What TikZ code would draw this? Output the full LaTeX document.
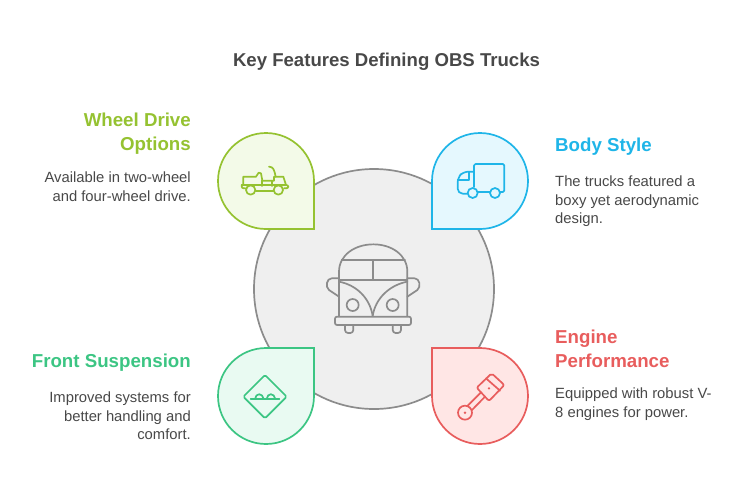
\documentclass[tikz,border=0pt]{standalone}
\usepackage{fontspec}
\setmainfont{Liberation Sans}
\usetikzlibrary{positioning}

\definecolor{hubgray}{HTML}{8C8C8C}
\definecolor{hubfill}{HTML}{EFEFEF}
\definecolor{inkgray}{HTML}{484848}
\definecolor{wheelgreen}{HTML}{95C231}
\definecolor{wheelfill}{HTML}{F3FAE8}
\definecolor{bodyblue}{HTML}{1FB5E8}
\definecolor{bodyfill}{HTML}{E5F8FE}
\definecolor{frontgreen}{HTML}{3CC583}
\definecolor{frontfill}{HTML}{E9FAF2}
\definecolor{enginered}{HTML}{E85D5D}
\definecolor{enginefill}{HTML}{FFE6E5}

\tikzset{
  petal/.style={line width=1.7pt, line join=miter},
  glyph/.style={line width=1.7pt, line join=round, line cap=round},
  headtext/.style={inner sep=0pt, font=\fontsize{18.7}{24.2}\selectfont\bfseries},
  notetext/.style={inner sep=0pt, text=inkgray, font=\fontsize{14.8}{18.3}\selectfont},
}

\begin{document}
\begin{tikzpicture}[x=1pt, y=-1pt]
      \useasboundingbox (0,0) rectangle (746,499);
      \node[inner sep=0pt, text=inkgray, font=\fontsize{18.6}{22}\selectfont\bfseries] (title) at (386.5,62) {Key Features Defining OBS Trucks};

      % hub
      \node[circle, draw=hubgray, fill=hubfill, line width=1.7pt, minimum size=240pt, inner sep=0pt] (hub) at (374,289) {};

      % petals
      \draw[petal, draw=wheelgreen, fill=wheelfill] (314,229) -- (314,181) arc[start angle=0, end angle=-270, radius=48] -- cycle;
      \draw[petal, draw=bodyblue, fill=bodyfill] (432,229) -- (432,181) arc[start angle=180, end angle=450, radius=48] -- cycle;
      \draw[petal, draw=frontgreen, fill=frontfill] (314,348) -- (314,396) arc[start angle=0, end angle=270, radius=48] -- cycle;
      \draw[petal, draw=enginered, fill=enginefill] (432,348) -- (432,396) arc[start angle=180, end angle=-90, radius=48] -- cycle;

      % bus
      \begin{scope}[shift={(320,235)}, scale=1/3, glyph, draw=hubgray]
        \draw (57,243) -- (57,110) .. controls (57,60) and (105,28) .. (160,28) .. controls (215,28) and (262,60) .. (262,110) -- (262,243);
        \draw (65,76) -- (255,76) (57,135) -- (262,135) (158,76) -- (158,135);
        \draw (57,130) -- (35,130) .. controls (20,130) and (15,155) .. (27,165) -- (57,185);
        \draw (262,130) -- (284,130) .. controls (299,130) and (304,155) .. (292,165) -- (262,185);
        \draw (57,140) .. controls (110,150) and (150,190) .. (158,243);
        \draw (262,140) .. controls (209,150) and (166,190) .. (158,243);
        \draw (98,210) circle[radius=18];
        \draw (218,210) circle[radius=18];
        \draw[rounded corners=2pt] (45,245) rectangle (273,270);
        \draw[rounded corners=3pt] (75,270) -- (75,294) -- (100,294) -- (100,270);
        \draw[rounded corners=3pt] (218,270) -- (218,294) -- (243,294) -- (243,270);
      \end{scope}

      % jeep
      \begin{scope}[shift={(210,125)}, scale=1/3, glyph, draw=wheelgreen]
        \draw (100,180) -- (100,155) -- (138,155) -- (146,143) -- (153,145) -- (157,167) -- (192,167) -- (192,155) -- (220,155) -- (228,180);
        \draw (157,167) -- (157,183) (187,167) -- (187,183);
        \draw (177,125) .. controls (190,125) and (193,135) .. (197,155);
        \draw[rounded corners=2pt] (95,180) -- (235,180) -- (235,190) -- (222,190);
        \draw[rounded corners=2pt] (95,180) -- (95,190) -- (106,190);
        \draw (137,197) -- (190,197);
        \draw (122,195) circle[radius=14];
        \draw (205,195) circle[radius=14];
      \end{scope}

      % truck
      \begin{scope}[shift={(425,125)}, scale=1/3, glyph, draw=bodyblue]
        \draw[rounded corners=1.5pt] (147,140) -- (147,117) -- (238,117) -- (238,201) -- (226,201);
        \draw (160,201) -- (194,201);
        \draw (147,140) -- (147,186);
        \draw[rounded corners=5pt] (147,140) -- (115,140) -- (98,158) -- (98,206) -- (127,206);
        \draw (98,165) -- (133,165) -- (133,140);
        \draw (143,204) circle[radius=15];
        \draw (210,204) circle[radius=15];
      \end{scope}

      % bump sign
      \begin{scope}[shift={(210,340)}, scale=1/3, glyph, draw=frontgreen]
        \draw[rounded corners=1.5pt] (165,105) -- (230,170) -- (165,235) -- (100,170) -- cycle;
        \draw (122,177) -- (208,177);
        \draw (135,177) .. controls (137,158) and (158,158) .. (161,177);
        \draw (170,177) .. controls (172,158) and (193,158) .. (196,177);
      \end{scope}

      % piston
      \begin{scope}[shift={(425,340)}, scale=1/3, glyph, draw=enginered]
        \draw[rounded corners=2pt] (155,143) -- (200,100) -- (238,135) -- (192,183) -- cycle;
        \draw (183,115) -- (225,152);
        \draw (127,198) -- (168,157);
        \draw (140,211) -- (180,170);
        \draw (120,218) circle[radius=21];
        \fill[enginered] (120,218) circle[radius=4];
        \fill[enginered] (192,145) circle[radius=4];
      \end{scope}

      % texts
      \node[headtext, text=wheelgreen, anchor=north east, align=right] (wheelhead) at (191,113) {Wheel Drive\\Options};
      \node[notetext, align=right, below=17pt of wheelhead.south east, anchor=north east] (wheelnote) {Available in two-wheel\\and four-wheel drive.};

      \node[headtext, text=bodyblue, anchor=north west, align=left] (bodyhead) at (555,138) {Body Style};
      \node[notetext, align=left, below=20pt of bodyhead.south west, anchor=north west] (bodynote) {The trucks featured a\\boxy yet aerodynamic\\design.};

      \node[headtext, text=frontgreen, anchor=north east, align=right] (fronthead) at (191,354) {Front Suspension};
      \node[notetext, align=right, below=20pt of fronthead.south east, anchor=north east] (frontnote) {Improved systems for\\better handling and\\comfort.};

      \node[headtext, text=enginered, anchor=north west, align=left] (enginehead) at (555,330) {Engine\\Performance};
      \node[notetext, align=left, below=19.5pt of enginehead.south west, anchor=north west] (enginenote) {Equipped with robust V-\\8 engines for power.};
\end{tikzpicture}
\end{document}
